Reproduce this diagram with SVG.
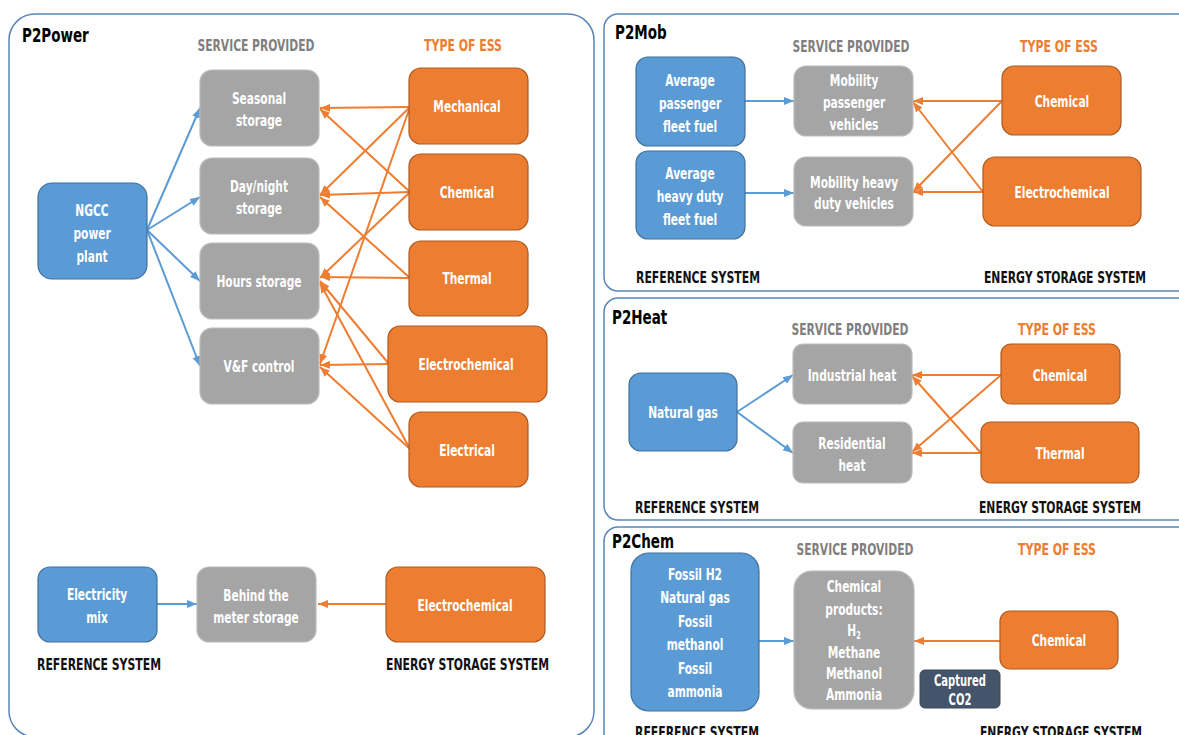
<svg xmlns="http://www.w3.org/2000/svg" width="1179" height="735" viewBox="0 0 1179 735">
<style>
text{font-family:"DejaVu Sans Condensed","Liberation Sans",sans-serif;font-weight:bold}
.panel{fill:#fff;stroke:#5a86b8;stroke-width:1.5}
.blue{fill:#5b9bd5;stroke:#41719c;stroke-width:1.2}
.gray{fill:#a5a5a5;stroke:#bcbcbc;stroke-width:1.2}
.orange{fill:#ed7d31;stroke:#ae5a21;stroke-width:1.2}
.dark{fill:#44546a;stroke:#3a4858;stroke-width:1}
.nt{fill:#fff;font-size:16px;text-anchor:middle;transform-box:fill-box;transform-origin:center;transform:scaleX(0.74)}
.ttl{fill:#000;font-size:19px;transform-box:fill-box;transform-origin:left center;transform:scaleX(0.79)}
.sp{fill:#7f7f7f;font-size:16px;text-anchor:middle}
.te{fill:#ed7d31;font-size:16px;text-anchor:middle}
.sys{fill:#111;font-size:16px}
.cb{stroke:#5b9bd5;stroke-width:2;fill:none;marker-end:url(#ab)}
.co{stroke:#ed7d31;stroke-width:2;fill:none;marker-end:url(#ao)}
</style>
<defs>
<marker id="ab" markerUnits="userSpaceOnUse" markerWidth="10" markerHeight="10" viewBox="0 0 10 10" refX="10" refY="5" orient="auto"><path d="M0,1 L10,5 L0,9 Z" fill="#5b9bd5"/></marker>
<marker id="ao" markerUnits="userSpaceOnUse" markerWidth="10" markerHeight="10" viewBox="0 0 10 10" refX="10" refY="5" orient="auto"><path d="M0,1 L10,5 L0,9 Z" fill="#ed7d31"/></marker>
</defs>
<rect width="1179" height="735" fill="#fff"/>
<g id="panels">
<rect class="panel" x="9" y="14" width="585" height="723" rx="26"/>
<rect class="panel" x="604" y="14" width="600" height="277" rx="14"/>
<rect class="panel" x="604" y="298" width="600" height="222" rx="14"/>
<rect class="panel" x="604" y="527" width="600" height="230" rx="14"/>
</g>
<g id="labels">
<text class="ttl" x="22" y="42">P2Power</text>
<text class="sp" x="256" y="51" textLength="117" lengthAdjust="spacingAndGlyphs">SERVICE PROVIDED</text>
<text class="te" x="463" y="51" textLength="78" lengthAdjust="spacingAndGlyphs">TYPE OF ESS</text>
<text class="sys" x="37" y="670" textLength="124" lengthAdjust="spacingAndGlyphs">REFERENCE SYSTEM</text>
<text class="sys" x="386" y="670" textLength="163" lengthAdjust="spacingAndGlyphs">ENERGY STORAGE SYSTEM</text>
<text class="ttl" x="615" y="39">P2Mob</text>
<text class="sp" x="851" y="52" textLength="117" lengthAdjust="spacingAndGlyphs">SERVICE PROVIDED</text>
<text class="te" x="1059" y="52" textLength="78" lengthAdjust="spacingAndGlyphs">TYPE OF ESS</text>
<text class="sys" x="636" y="283" textLength="124" lengthAdjust="spacingAndGlyphs">REFERENCE SYSTEM</text>
<text class="sys" x="984" y="283" textLength="162" lengthAdjust="spacingAndGlyphs">ENERGY STORAGE SYSTEM</text>
<text class="ttl" x="612" y="324">P2Heat</text>
<text class="sp" x="850" y="335" textLength="117" lengthAdjust="spacingAndGlyphs">SERVICE PROVIDED</text>
<text class="te" x="1057" y="335" textLength="78" lengthAdjust="spacingAndGlyphs">TYPE OF ESS</text>
<text class="sys" x="635" y="513" textLength="124" lengthAdjust="spacingAndGlyphs">REFERENCE SYSTEM</text>
<text class="sys" x="979" y="513" textLength="162" lengthAdjust="spacingAndGlyphs">ENERGY STORAGE SYSTEM</text>
<text class="ttl" x="612" y="548">P2Chem</text>
<text class="sp" x="855" y="555" textLength="117" lengthAdjust="spacingAndGlyphs">SERVICE PROVIDED</text>
<text class="te" x="1057" y="555" textLength="78" lengthAdjust="spacingAndGlyphs">TYPE OF ESS</text>
<text class="sys" x="635" y="738" textLength="124" lengthAdjust="spacingAndGlyphs">REFERENCE SYSTEM</text>
<text class="sys" x="980" y="738" textLength="162" lengthAdjust="spacingAndGlyphs">ENERGY STORAGE SYSTEM</text>
</g>
<g id="connectors">
<path class="cb" d="M147,230 L200,108"/>
<path class="cb" d="M147,230 L200,197"/>
<path class="cb" d="M147,230 L200,281"/>
<path class="cb" d="M147,230 L200,366"/>
<path class="co" d="M410,107 L320,108"/>
<path class="co" d="M410,107 L320,195"/>
<path class="co" d="M410,107 L320,364"/>
<path class="co" d="M410,192 L320,109"/>
<path class="co" d="M410,192 L320,195"/>
<path class="co" d="M410,192 L320,278"/>
<path class="co" d="M410,278 L320,197"/>
<path class="co" d="M410,278 L320,277"/>
<path class="co" d="M389,364 L320,281"/>
<path class="co" d="M389,364 L320,365"/>
<path class="co" d="M410,449 L320,283"/>
<path class="co" d="M410,449 L320,367"/>
<path class="cb" d="M157,604 L197,604"/>
<path class="co" d="M387,604 L318,604"/>
<path class="cb" d="M745,101 L794,101"/>
<path class="cb" d="M745,193 L794,193"/>
<path class="co" d="M1002,101 L913,101"/>
<path class="co" d="M1002,101 L913,192"/>
<path class="co" d="M983,192 L913,102"/>
<path class="co" d="M983,192 L913,192"/>
<path class="cb" d="M737,412 L793,375"/>
<path class="cb" d="M737,412 L793,453"/>
<path class="co" d="M1001,375 L912,375"/>
<path class="co" d="M1001,375 L912,452"/>
<path class="co" d="M981,453 L912,376"/>
<path class="co" d="M981,453 L912,453"/>
<path class="cb" d="M759,641 L794,641"/>
<path class="co" d="M1000,641 L914,641"/>
</g>
<g id="ngcc"><rect class="blue" x="38" y="183" width="109" height="96" rx="14"/><text class="nt" x="92" y="216">NGCC</text><text class="nt" x="92" y="239">power</text><text class="nt" x="92" y="262">plant</text></g>
<g id="seasonal"><rect class="gray" x="200" y="70" width="119" height="76" rx="12"/><text class="nt" x="259" y="104">Seasonal</text><text class="nt" x="259" y="126">storage</text></g>
<g id="daynight"><rect class="gray" x="200" y="158" width="119" height="76" rx="12"/><text class="nt" x="259" y="192">Day/night</text><text class="nt" x="259" y="214">storage</text></g>
<g id="hours"><rect class="gray" x="200" y="243" width="119" height="76" rx="12"/><text class="nt" x="259" y="287">Hours storage</text></g>
<g id="vf"><rect class="gray" x="200" y="328" width="119" height="76" rx="12"/><text class="nt" x="259" y="372">V&amp;F control</text></g>
<g id="mechanical"><rect class="orange" x="409" y="68" width="119" height="76" rx="12"/><text class="nt" x="467" y="112">Mechanical</text></g>
<g id="chemical1"><rect class="orange" x="409" y="154" width="119" height="76" rx="12"/><text class="nt" x="467" y="198">Chemical</text></g>
<g id="thermal1"><rect class="orange" x="409" y="241" width="119" height="75" rx="12"/><text class="nt" x="467" y="284">Thermal</text></g>
<g id="electrochem1"><rect class="orange" x="388" y="326" width="159" height="76" rx="12"/><text class="nt" x="466" y="370">Electrochemical</text></g>
<g id="electrical"><rect class="orange" x="409" y="412" width="119" height="75" rx="12"/><text class="nt" x="467" y="456">Electrical</text></g>
<g id="elecmix"><rect class="blue" x="38" y="567" width="119" height="75" rx="12"/><text class="nt" x="97" y="600">Electricity</text><text class="nt" x="97" y="623">mix</text></g>
<g id="btm"><rect class="gray" x="197" y="567" width="119" height="75" rx="12"/><text class="nt" x="256" y="601">Behind the</text><text class="nt" x="256" y="623">meter storage</text></g>
<g id="electrochem2"><rect class="orange" x="386" y="567" width="159" height="75" rx="12"/><text class="nt" x="465" y="611">Electrochemical</text></g>
<g id="avgpass"><rect class="blue" x="636" y="57" width="109" height="89" rx="12"/><text class="nt" x="690" y="86">Average</text><text class="nt" x="690" y="109">passenger</text><text class="nt" x="690" y="132">fleet fuel</text></g>
<g id="avgheavy"><rect class="blue" x="636" y="151" width="109" height="88" rx="12"/><text class="nt" x="690" y="179">Average</text><text class="nt" x="690" y="202">heavy duty</text><text class="nt" x="690" y="225">fleet fuel</text></g>
<g id="mobpass"><rect class="gray" x="794" y="66" width="119" height="70" rx="12"/><text class="nt" x="854" y="86">Mobility</text><text class="nt" x="854" y="108">passenger</text><text class="nt" x="854" y="130">vehicles</text></g>
<g id="mobheavy"><rect class="gray" x="794" y="157" width="119" height="69" rx="12"/><text class="nt" x="854" y="188">Mobility heavy</text><text class="nt" x="854" y="209">duty vehicles</text></g>
<g id="chemical2"><rect class="orange" x="1002" y="66" width="119" height="69" rx="12"/><text class="nt" x="1062" y="107">Chemical</text></g>
<g id="electrochem3"><rect class="orange" x="983" y="157" width="158" height="69" rx="12"/><text class="nt" x="1062" y="198">Electrochemical</text></g>
<g id="natgas"><rect class="blue" x="629" y="373" width="108" height="78" rx="12"/><text class="nt" x="683" y="418">Natural gas</text></g>
<g id="indheat"><rect class="gray" x="793" y="344" width="119" height="60" rx="10"/><text class="nt" x="852" y="381">Industrial heat</text></g>
<g id="resheat"><rect class="gray" x="793" y="422" width="119" height="61" rx="10"/><text class="nt" x="852" y="449">Residential</text><text class="nt" x="852" y="471">heat</text></g>
<g id="chemical3"><rect class="orange" x="1001" y="344" width="119" height="60" rx="10"/><text class="nt" x="1060" y="381">Chemical</text></g>
<g id="thermal2"><rect class="orange" x="981" y="422" width="158" height="61" rx="10"/><text class="nt" x="1060" y="459">Thermal</text></g>
<g id="fossil"><rect class="blue" x="631" y="553" width="128" height="158" rx="18"/><text class="nt" x="695" y="580">Fossil H2</text><text class="nt" x="695" y="603">Natural gas</text><text class="nt" x="695" y="627">Fossil</text><text class="nt" x="695" y="650">methanol</text><text class="nt" x="695" y="674">Fossil</text><text class="nt" x="695" y="697">ammonia</text></g>
<g id="chemprod"><rect class="gray" x="794" y="571" width="120" height="138" rx="18"/><text class="nt" x="854" y="592">Chemical</text><text class="nt" x="854" y="615">products:</text><text class="nt" x="854" y="636">H<tspan font-size="10" dy="3">2</tspan></text><text class="nt" x="854" y="658">Methane</text><text class="nt" x="854" y="679">Methanol</text><text class="nt" x="854" y="700">Ammonia</text></g>
<g id="chemical4"><rect class="orange" x="1000" y="611" width="118" height="58" rx="10"/><text class="nt" x="1059" y="646">Chemical</text></g>
<g id="co2"><rect class="dark" x="920" y="670" width="80" height="38" rx="5"/><text class="nt" x="960" y="686" style="font-size:15px">Captured</text><text class="nt" x="960" y="705" style="font-size:15px">CO2</text></g>
</svg>
